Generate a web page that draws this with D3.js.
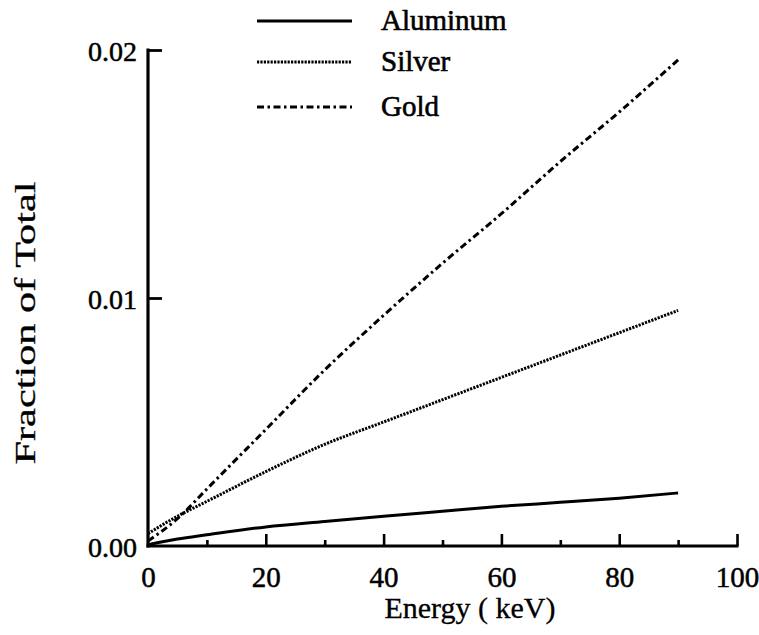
<!DOCTYPE html>
<html>
<head>
<meta charset="utf-8">
<script src="https://cdn.jsdelivr.net/npm/d3@7/dist/d3.min.js"></script>
<style>
  html, body { margin: 0; padding: 0; background: #fff; }
</style>
</head>
<body>
<svg id="chart" width="759" height="635"></svg>
<script>
// Photon energies (keV) at which each fraction is tabulated
const energies = [0, 5, 10, 20, 30, 40, 50, 60, 70, 80, 90];

// Fraction of total for each material
const aluminum = [0.00005, 0.00028, 0.00045, 0.00077, 0.00099, 0.0012, 0.0014, 0.0016, 0.00176, 0.00193, 0.00214];
const silver   = [0.0005, 0.0012, 0.0018, 0.0030, 0.0041, 0.0050, 0.0059, 0.0068, 0.0077, 0.0086, 0.0095];
const gold     = [0.0002, 0.0011, 0.0023, 0.0047, 0.0071, 0.0093, 0.0114, 0.0134, 0.0155, 0.0175, 0.0196];

const seriesNames = ["Aluminum", "Silver", "Gold"];
const seriesValues = [aluminum, silver, gold];
const seriesDash = [null, "2.2,1.2", "7,3.5,2.5,3.5"];

const xTickValues = [10, 20, 30, 40, 50, 60, 70, 80, 90, 100];
const xLabelValues = [0, 20, 40, 60, 80, 100];
const yTickValues = [0.01, 0.02];
const yLabelValues = [0, 0.01, 0.02];

const SERIF = "Liberation Serif";

const svg = d3.select("#chart");

const x = d3.scaleLinear().domain([0, 100]).range([148, 737]);
const y = d3.scaleLinear().domain([0, 0.02]).range([546, 50]);

// x axis: baseline with inward ticks, longer at the labelled values
const xAxis = svg.append("g")
  .attr("transform", `translate(0,${y(0)})`)
  .call(d3.axisBottom(x).tickValues(xTickValues).tickSizeInner(-12).tickSizeOuter(0).tickFormat(""));
xAxis.select(".domain").remove();
xAxis.selectAll(".tick line")
  .attr("stroke", "#000").attr("stroke-width", 2.6)
  .attr("y2", d => (d % 20 === 0 ? -12 : -6));
svg.append("line")
  .attr("x1", x(0) - 1.5).attr("x2", x(100) + 1.5)
  .attr("y1", y(0)).attr("y2", y(0))
  .attr("stroke", "#000").attr("stroke-width", 3.2);

const xLabels = svg.append("g")
  .attr("transform", `translate(0,${y(0)})`)
  .call(d3.axisBottom(x).tickValues(xLabelValues).tickSize(0).tickPadding(0).tickFormat(d3.format("d")));
xLabels.attr("font-family", SERIF).attr("font-size", 29);
xLabels.select(".domain").remove();
xLabels.selectAll("text")
  .attr("y", 41).attr("dy", null)
  .attr("fill", "#000").attr("stroke", "#000").attr("stroke-width", 0.5);

// y axis: vertical line with inward ticks
const yAxis = svg.append("g")
  .attr("transform", `translate(${x(0)},0)`)
  .call(d3.axisRight(y).tickValues(yTickValues).tickSizeInner(14).tickSizeOuter(0).tickFormat(""));
yAxis.select(".domain").remove();
yAxis.selectAll(".tick line").attr("stroke", "#000").attr("stroke-width", 2.8);
svg.append("line")
  .attr("x1", x(0)).attr("x2", x(0))
  .attr("y1", y(0.02) - 1.4).attr("y2", y(0) + 1.5)
  .attr("stroke", "#000").attr("stroke-width", 3.2);

const yLabels = svg.append("g")
  .attr("transform", `translate(${x(0)},0)`)
  .call(d3.axisLeft(y).tickValues(yLabelValues).tickSize(0).tickPadding(11).tickFormat(d3.format(".2f")));
yLabels.attr("font-family", SERIF).attr("font-size", 28);
yLabels.select(".domain").remove();
yLabels.selectAll("text")
  .attr("dy", "0.36em")
  .attr("fill", "#000").attr("stroke", "#000").attr("stroke-width", 0.5);

// axis titles
svg.append("text")
  .attr("x", 470).attr("y", 618)
  .attr("text-anchor", "middle")
  .attr("font-family", SERIF)
  .attr("font-size", 30)
  .attr("fill", "#000").attr("stroke", "#000").attr("stroke-width", 0.3)
  .text("Energy ( keV)");

svg.append("text")
  .attr("transform", "translate(35,323) rotate(-90)")
  .attr("text-anchor", "middle")
  .attr("font-family", SERIF)
  .attr("font-size", 30)
  .attr("fill", "#000").attr("stroke", "#000").attr("stroke-width", 0.3)
  .attr("textLength", 283)
  .attr("lengthAdjust", "spacingAndGlyphs")
  .text("Fraction of Total");

// data curves
const line = d3.line()
  .x((d, i) => x(energies[i]))
  .y(d => y(d))
  .curve(d3.curveMonotoneX);

svg.append("g").selectAll("path")
  .data(seriesValues)
  .join("path")
  .attr("d", d => line(d))
  .attr("fill", "none")
  .attr("stroke", "#000")
  .attr("stroke-width", 3)
  .attr("stroke-dasharray", (d, i) => seriesDash[i]);

// legend
const legendY = [21, 62, 107];
const legend = svg.append("g");
legend.selectAll("line")
  .data(seriesNames)
  .join("line")
  .attr("x1", 257).attr("x2", 352)
  .attr("y1", (d, i) => legendY[i]).attr("y2", (d, i) => legendY[i])
  .attr("stroke", "#000").attr("stroke-width", 3)
  .attr("stroke-dasharray", (d, i) => seriesDash[i]);
legend.selectAll("text")
  .data(seriesNames)
  .join("text")
  .attr("x", 381)
  .attr("y", (d, i) => legendY[i] + 9)
  .attr("font-family", SERIF)
  .attr("font-size", 29)
  .attr("fill", "#000").attr("stroke", "#000").attr("stroke-width", 0.6)
  .text(d => d);
</script>
</body>
</html>
